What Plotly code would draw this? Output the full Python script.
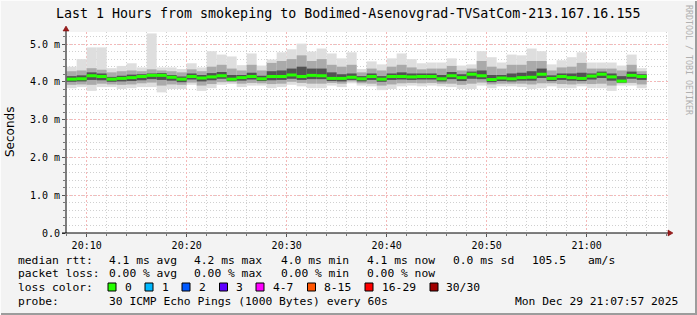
import numpy as np
import pandas as pd
import plotly.graph_objects as go

# ---------------- data (milliseconds) ----------------
start_time = "2025-12-29 20:08:00"   # first 1-minute step
rtt_median = [4.07, 4.08, 4.16, 4.14, 4.07, 4.09, 4.11, 4.14, 4.17, 4.17,
              4.12, 4.07, 4.14, 4.10, 4.13, 4.16, 4.07, 4.11, 4.14, 4.08,
              4.14, 4.14, 4.18, 4.14, 4.17, 4.16, 4.09, 4.09, 4.12, 4.08,
              4.14, 4.07, 4.14, 4.14, 4.13, 4.14, 4.14, 4.08, 4.16, 4.11,
              4.20, 4.16, 4.06, 4.10, 4.08, 4.11, 4.12, 4.20, 4.09, 4.14,
              4.11, 4.09, 4.15, 4.20, 4.13, 4.02, 4.17, 4.14]
rtt_max = [4.40, 4.60, 4.91, 4.91, 4.36, 4.42, 4.49, 4.38, 5.28, 4.38,
           4.38, 4.34, 4.49, 4.38, 4.81, 4.72, 4.67, 4.44, 4.75, 4.43,
           4.59, 4.78, 4.86, 5.01, 4.80, 4.88, 4.75, 4.62, 4.78, 4.34,
           4.54, 4.46, 4.62, 4.75, 4.60, 4.49, 4.51, 4.51, 4.62, 4.43,
           4.46, 4.81, 4.65, 4.51, 4.72, 4.70, 4.88, 4.81, 4.46, 4.57,
           4.65, 4.78, 4.51, 4.51, 4.51, 4.43, 4.72, 4.36]
rtt_min = [3.83, 3.86, 3.76, 3.86, 3.86, 3.81, 3.83, 3.86, 3.86, 3.72,
           3.81, 3.81, 3.92, 3.76, 3.83, 3.92, 3.94, 3.86, 3.90, 3.90,
           3.83, 3.86, 3.92, 3.88, 3.83, 3.83, 3.90, 3.86, 3.96, 3.90,
           3.88, 3.78, 3.81, 3.88, 3.90, 3.88, 3.90, 3.88, 3.86, 3.81,
           3.81, 3.90, 3.83, 3.88, 3.88, 3.86, 3.81, 3.83, 3.88, 3.83,
           3.83, 3.88, 3.83, 3.83, 3.76, 3.90, 3.90, 3.83]
rtt_p10 = [3.92, 3.93, 3.92, 3.95, 3.93, 3.92, 3.93, 3.96, 3.98, 3.90,
           3.93, 3.92, 3.98, 3.90, 3.94, 3.99, 3.99, 3.95, 3.97, 3.96,
           3.94, 3.95, 4.00, 3.97, 3.95, 3.95, 3.97, 3.95, 4.01, 3.96,
           3.95, 3.90, 3.93, 3.96, 3.97, 3.96, 3.97, 3.95, 3.95, 3.92,
           3.95, 3.98, 3.93, 3.95, 3.95, 3.95, 3.93, 3.96, 3.96, 3.94,
           3.93, 3.95, 3.94, 3.95, 3.90, 3.96, 3.97, 3.93]
rtt_p25 = [4.00, 4.01, 4.05, 4.04, 4.00, 4.01, 4.02, 4.04, 4.07, 4.05,
           4.03, 3.99, 4.06, 4.01, 4.04, 4.08, 4.02, 4.03, 4.06, 4.02,
           4.04, 4.05, 4.08, 4.05, 4.07, 4.07, 4.02, 4.01, 4.05, 4.01,
           4.05, 4.00, 4.05, 4.06, 4.05, 4.06, 4.06, 4.01, 4.07, 4.02,
           4.08, 4.07, 3.99, 4.02, 4.01, 4.03, 4.03, 4.10, 4.02, 4.05,
           4.03, 4.02, 4.06, 4.10, 4.03, 3.98, 4.08, 4.05]
rtt_p75 = [4.15, 4.17, 4.25, 4.22, 4.13, 4.16, 4.19, 4.20, 4.22, 4.23,
           4.18, 4.14, 4.22, 4.18, 4.23, 4.26, 4.18, 4.18, 4.24, 4.16,
           4.28, 4.30, 4.35, 4.40, 4.35, 4.35, 4.25, 4.20, 4.22, 4.15,
           4.22, 4.15, 4.22, 4.25, 4.22, 4.22, 4.22, 4.18, 4.26, 4.20,
           4.27, 4.30, 4.18, 4.18, 4.22, 4.24, 4.28, 4.35, 4.17, 4.22,
           4.22, 4.24, 4.22, 4.27, 4.22, 4.15, 4.27, 4.20]
rtt_p90 = [4.28, 4.30, 4.36, 4.32, 4.25, 4.28, 4.30, 4.28, 4.33, 4.30,
           4.28, 4.25, 4.33, 4.28, 4.40, 4.45, 4.35, 4.30, 4.45, 4.30,
           4.50, 4.55, 4.60, 4.70, 4.55, 4.60, 4.45, 4.40, 4.45, 4.25,
           4.35, 4.30, 4.40, 4.45, 4.38, 4.33, 4.35, 4.35, 4.42, 4.30,
           4.35, 4.55, 4.40, 4.35, 4.45, 4.45, 4.55, 4.55, 4.30, 4.38,
           4.40, 4.50, 4.35, 4.35, 4.35, 4.30, 4.45, 4.28]

y_tickvals = [0, 1, 2, 3, 4, 5]
y_ticktext = ["0.0", "1.0 m", "2.0 m", "3.0 m", "4.0 m", "5.0 m"]

title_text = "Last 1 Hours from smokeping to Bodimed-Asenovgrad-TVSatCom-213.167.16.155"
line1 = [("median rtt:", 16), ("4.1 ms avg", 107), ("4.2 ms max", 192),
         ("4.0 ms min", 279), ("4.1 ms now", 365), ("0.0 ms sd", 451),
         ("105.5", 530), ("am/s", 586)]
line2 = [("packet loss:", 16), ("0.00 % avg", 107), ("0.00 % max", 192),
         ("0.00 % min", 279), ("0.00 % now", 365)]
loss_labels = ["0", "1", "2", "3", "4-7", "8-15", "16-29", "30/30"]
loss_colors = ["#26ff00", "#00b8ff", "#0059ff", "#5e00ff", "#ff00ff",
               "#ff5500", "#ff0000", "#a00000"]
loss_sq_x = [108, 145, 182, 219.5, 256, 307.5, 365, 430]
loss_lab_x = [123, 160, 197, 234, 271, 322, 380, 444]
probe_text = "30 ICMP Echo Pings (1000 Bytes) every 60s"
date_text = "Mon Dec 29 21:07:57 2025"

# ---------------- geometry ----------------
W, H = 697, 315
ML, MR, MT, MB = 66, 29, 32, 82
PW, PH = W - ML - MR, H - MT - MB


def px(x):
    return (x - ML) / PW


def py(y):
    return (H - MB - y) / PH


MONO = "DejaVu Sans Mono"

n = len(rtt_median)
t = pd.date_range(start_time, periods=n, freq="60s") + pd.Timedelta(seconds=30)
med = np.array(rtt_median)
lo0, hi0 = np.array(rtt_min), np.array(rtt_max)
lo1, hi1 = np.array(rtt_p10), np.array(rtt_p90)
lo2, hi2 = np.array(rtt_p25), np.array(rtt_p75)

fig = go.Figure()
for lo, hi, col in [(lo0, hi0, "#dedede"), (lo1, hi1, "#aaaaaa"), (lo2, hi2, "#525252")]:
    fig.add_trace(go.Bar(x=t, y=hi - lo, base=lo, width=60000,
                         marker=dict(color=col, line=dict(width=0)),
                         hoverinfo="skip", showlegend=False))
fig.add_trace(go.Scatter(x=t, y=med, mode="markers",
                         marker=dict(symbol="line-ew", size=7.2,
                                     line=dict(width=3, color="#26ff00")),
                         showlegend=False))

x0 = pd.Timestamp(start_time) - pd.Timedelta(seconds=4)
x1 = x0 + pd.Timedelta(seconds=PW * 6)

fig.update_layout(
    width=W, height=H, autosize=False,
    margin=dict(l=ML, r=MR, t=MT, b=MB, pad=0),
    paper_bgcolor="#f3f3f3", plot_bgcolor="#ffffff",
    barmode="overlay", showlegend=False,
    font=dict(family=MONO, size=10, color="#000000"),
    xaxis=dict(range=[x0, x1], type="date",
               tick0="2025-12-29 20:10:00", dtick=600000, tickformat="%H:%M",
               showgrid=True, gridcolor="#f5b8b8", griddash="2px,2px", gridwidth=1,
               ticks="outside", ticklen=3, tickcolor="#555555",
               showline=False, zeroline=False,
               tickfont=dict(family=MONO, size=10, color="#000000"),
               minor=dict(dtick=120000, tick0="2025-12-29 20:10:00",
                          showgrid=True, gridcolor="#d0d0d0",
                          griddash="1px,2px", ticks="outside", ticklen=2,
                          tickcolor="#777777")),
    yaxis=dict(range=[0, PH / 37.8], tickvals=y_tickvals, ticktext=y_ticktext,
               showgrid=True, gridcolor="#f5b8b8", griddash="2px,2px", gridwidth=1,
               ticks="outside", ticklen=3, tickcolor="#555555",
               showline=False, zeroline=False,
               tickfont=dict(family=MONO, size=10, color="#000000"),
               minor=dict(dtick=0.2, tick0=0, showgrid=True, gridcolor="#d0d0d0",
                          griddash="1px,2px", ticks="outside", ticklen=2,
                          tickcolor="#777777")),
)

shapes = []
# axis lines with arrows
shapes.append(dict(type="line", xref="paper", yref="paper",
                   x0=px(66), x1=px(66), y0=py(233), y1=py(29),
                   line=dict(color="#555555", width=1.5)))
shapes.append(dict(type="line", xref="paper", yref="paper",
                   x0=px(62), x1=px(669), y0=py(233), y1=py(233),
                   line=dict(color="#000000", width=1)))
shapes.append(dict(type="path", xref="paper", yref="paper",
                   path=f"M {px(63)},{py(31)} L {px(69)},{py(31)} L {px(66)},{py(26)} Z",
                   fillcolor="#9a1e1e", line=dict(color="#7a0000", width=0.5)))
shapes.append(dict(type="path", xref="paper", yref="paper",
                   path=f"M {px(668)},{py(230)} L {px(668)},{py(236)} L {px(673)},{py(233)} Z",
                   fillcolor="#9a1e1e", line=dict(color="#7a0000", width=0.5)))
# frame
shapes.append(dict(type="line", xref="paper", yref="paper",
                   x0=px(0), x1=px(697), y0=py(314), y1=py(314),
                   line=dict(color="#9c9c9c", width=2)))
shapes.append(dict(type="line", xref="paper", yref="paper",
                   x0=px(696), x1=px(696), y0=py(0), y1=py(315),
                   line=dict(color="#9c9c9c", width=2)))
shapes.append(dict(type="line", xref="paper", yref="paper",
                   x0=px(0), x1=px(697), y0=py(0.5), y1=py(0.5),
                   line=dict(color="#fcfcfc", width=1)))
shapes.append(dict(type="line", xref="paper", yref="paper",
                   x0=px(0.5), x1=px(0.5), y0=py(0), y1=py(315),
                   line=dict(color="#fcfcfc", width=1)))
# loss colour squares
for sx, col in zip(loss_sq_x, loss_colors):
    shapes.append(dict(type="rect", xref="paper", yref="paper",
                       x0=px(sx), x1=px(sx + 8), y0=py(283), y1=py(291),
                       fillcolor=col, line=dict(color="#000000", width=1)))
fig.update_layout(shapes=shapes)

ann = []


def txt(s, x, y, size=11.3, anchor="left", color="#000000", angle=0, family=MONO):
    ann.append(dict(text=s.replace(" ", "\u00a0"), x=px(x), y=py(y),
                    xref="paper", yref="paper", xanchor=anchor, yanchor="middle",
                    showarrow=False, textangle=angle,
                    font=dict(family=family, size=size, color=color)))


txt(title_text, 348, 13, size=13.3, anchor="center")
for s, x in line1:
    txt(s, x, 260)
for s, x in line2:
    txt(s, x, 273.5)
txt("loss color:", 16, 287.5)
for s, x in zip(loss_labels, loss_lab_x):
    txt(s, x, 287.5)
txt("probe:", 16, 301)
txt(probe_text, 107, 301)
txt(date_text, 513, 301)
txt("Seconds", 10, 132, size=12, anchor="center", angle=-90, family="DejaVu Sans")
txt("RRDTOOL / TOBI OETIKER", 689, 60, size=8.3, anchor="center", angle=90,
    color="#b0b0b0")
fig.update_layout(annotations=ann)

fig.write_html("out.html")
